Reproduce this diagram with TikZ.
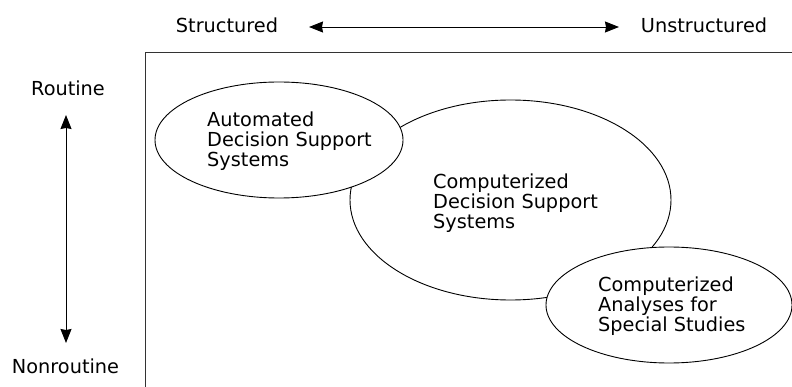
\documentclass[tikz,border=0pt]{standalone}
\usepackage{fontspec}
\setmainfont{DejaVu Sans}
\usetikzlibrary{shapes.geometric,arrows.meta}
\begin{document}
\begin{tikzpicture}[x=1pt,y=-1pt,
  lbl/.style={font=\fontsize{19.3}{20}\selectfont, inner sep=0pt},
  blob/.style={ellipse, draw, fill=white, line width=0.9pt, inner sep=0pt},
  txt/.style={lbl, align=left, anchor=west},
  axis/.style={line width=0.9pt, {Stealth[length=14pt,width=11pt,inset=1pt]}-{Stealth[length=14pt,width=11pt,inset=1pt]}}]
\useasboundingbox (0,0) rectangle (792,387);
\clip (0,0) rectangle (792,387);
% frame of the decision space (right and bottom edges run off the page)
\draw[line width=1pt, black!80] (145,53) rectangle (810,400);
% regions
\node[blob, minimum width=321pt, minimum height=200pt] (cdss) at (510.5,200) {};
\node[blob, minimum width=248pt, minimum height=116pt] (adss) at (279,140) {};
\node[blob, minimum width=246pt, minimum height=116pt] (cass) at (669,305) {};
\node[txt] (adsst) at (207,141) {Automated\\Decision Support\\Systems};
\node[txt] (cdsst) at (433,203) {Computerized\\Decision Support\\Systems};
\node[txt] (casst) at (598,306) {Computerized\\Analyses for\\Special Studies};
% axes
\node[lbl, anchor=base] (struct) at (227,33) {Structured};
\node[lbl, anchor=base] (unstruct) at (704,33) {Unstructured};
\node[lbl, anchor=base] (routine) at (68,96) {Routine};
\node[lbl, anchor=base] (nonroutine) at (65.5,373) {Nonroutine};
\coordinate (hl) at (309,27);
\coordinate (hr) at (619,27);
\coordinate (vt) at (66,115);
\coordinate (vb) at (66,343);
\draw[axis] (hl) -- (hr);
\draw[axis] (vt) -- (vb);
\end{tikzpicture}
\end{document}
